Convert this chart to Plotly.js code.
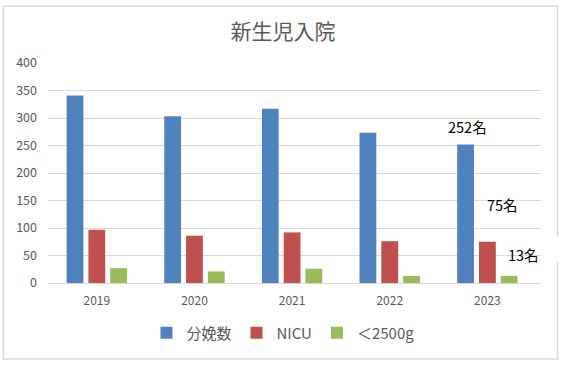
<!DOCTYPE html>
<html>
<head>
<meta charset="utf-8">
<script src="https://cdn.plot.ly/plotly-3.0.1.min.js"></script>
<style>html,body{margin:0;padding:0;background:#fff;}#chart{width:566px;height:367px;}</style>
</head>
<body>
<div id="chart"></div>
<script>
const years = ['2019', '2020', '2021', '2022', '2023'];
const deliveries = [341, 303, 317, 273, 252];
const nicu = [97, 86, 92, 76, 75];
const lowWeight = [27, 21, 26, 13, 13];
const seriesNames = ['分娩数', 'NICU', '＜2500g'];
const yTicks = [0, 50, 100, 150, 200, 250, 300, 350, 400];
const chartTitle = '新生児入院';
const unit = '名';

const W = 566, H = 367;
const M = {l: 48, r: 25, t: 63, b: 84};
const pw = W - M.l - M.r, ph = H - M.t - M.b;
const px = x => (x - M.l) / pw;
const py = y => (H - M.b - y) / ph;

const font = '"Noto Sans CJK JP", "Noto Sans", sans-serif';
const grey = '#595959';
const colors = ['#4f81bd', '#c0504d', '#9bbb59'];

const traces = [deliveries, nicu, lowWeight].map((vals, i) => ({
  type: 'bar', x: years, y: vals, name: seriesNames[i],
  marker: {color: colors[i]}, hoverinfo: 'none'
}));

const whiteBox = (x0, x1, y0, y1) => ({
  type: 'rect', xref: 'paper', yref: 'paper', layer: 'between',
  x0: px(x0), x1: px(x1), y0: py(y1), y1: py(y0),
  fillcolor: '#ffffff', line: {width: 0}
});

const last = years.length - 1;
const layout = {
  width: W, height: H,
  margin: M,
  paper_bgcolor: '#ffffff', plot_bgcolor: '#ffffff',
  font: {family: font, color: grey},
  title: {text: chartTitle, font: {size: 21, color: grey, family: font}, x: 0.5, xanchor: 'center', y: 1 - 32 / H, yanchor: 'middle', yref: 'container'},
  barmode: 'group', bargap: 0.33, bargroupgap: 0.23,
  xaxis: {type: 'category', tickfont: {size: 12, color: grey}, showgrid: false, showline: true, linecolor: '#d9d9d9', linewidth: 1, ticks: '', ticklabelstandoff: 7, fixedrange: true},
  yaxis: {range: [0, 400], tickvals: yTicks, ticktext: yTicks.map(String), tickfont: {size: 12.5, color: grey}, gridcolor: '#d9d9d9', gridwidth: 1, zeroline: false, showline: false, ticks: '', ticklabelstandoff: 10, fixedrange: true},
  showlegend: true,
  legend: {orientation: 'h', x: 0.5, xanchor: 'center', xref: 'container', y: 1 - 333 / H, yanchor: 'middle', yref: 'container', font: {size: 15, color: grey, family: font}, itemclick: false, itemdoubleclick: false},
  shapes: [
    {type: 'rect', xref: 'paper', yref: 'paper', layer: 'below', x0: px(3.5), x1: px(557.5), y0: py(359), y1: py(6), line: {color: '#d9d9d9', width: 1.5}, fillcolor: 'rgba(0,0,0,0)'},
    whiteBox(440, 532, 115, 137),
    whiteBox(478, 537, 194, 216),
    whiteBox(500, 562, 237, 262)
  ],
  annotations: [
    {xref: 'x', yref: 'y', x: last - 0.2, y: 285, text: deliveries[last] + unit, showarrow: false, font: {size: 14.5, color: '#000', family: font}},
    {xref: 'x', yref: 'y', x: last + 0.155, y: 142, text: nicu[last] + unit, showarrow: false, font: {size: 14.5, color: '#000', family: font}},
    {xref: 'x', yref: 'y', x: last + 0.37, y: 51, text: lowWeight[last] + unit, showarrow: false, font: {size: 14.5, color: '#000', family: font}}
  ]
};

Plotly.newPlot('chart', traces, layout, {displayModeBar: false, staticPlot: true});
</script>
</body>
</html>
